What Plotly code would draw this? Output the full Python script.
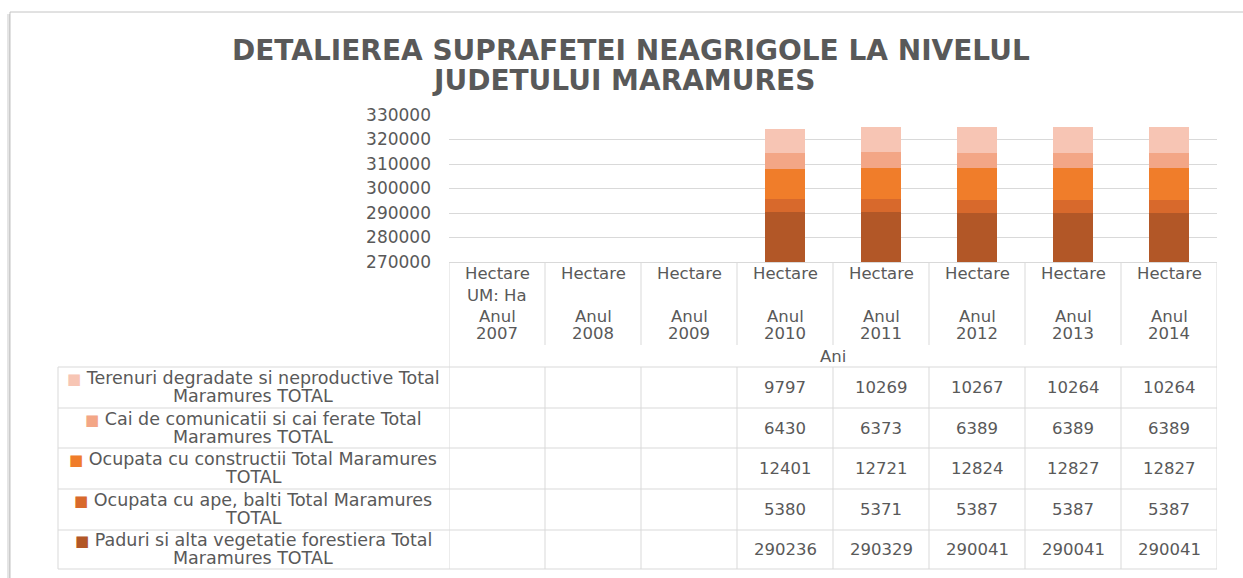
import plotly.graph_objects as go

# ---------------- data ----------------
years = ["2007", "2008", "2009", "2010", "2011", "2012", "2013", "2014"]
unit_row = ["Hectare"] * 8
um_row = ["UM: Ha", "", "", "", "", "", "", ""]
anul_row = ["Anul"] * 8

paduri = [None, None, None, 290236, 290329, 290041, 290041, 290041]
ape = [None, None, None, 5380, 5371, 5387, 5387, 5387]
constructii = [None, None, None, 12401, 12721, 12824, 12827, 12827]
cai = [None, None, None, 6430, 6373, 6389, 6389, 6389]
terenuri = [None, None, None, 9797, 10269, 10267, 10264, 10264]

# bottom-to-top stacking order: (label line 1, label line 2, values, colour)
series = [
    ("Paduri si alta vegetatie forestiera Total", "Maramures TOTAL", paduri, "#b25727"),
    ("Ocupata cu ape, balti Total Maramures", "TOTAL", ape, "#d8692c"),
    ("Ocupata cu constructii Total Maramures", "TOTAL", constructii, "#f07d2a"),
    ("Cai de comunicatii si cai ferate Total", "Maramures TOTAL", cai, "#f3a686"),
    ("Terenuri degradate si neproductive Total", "Maramures TOTAL", terenuri, "#f7c5b4"),
]

title_lines = ["DETALIEREA SUPRAFETEI NEAGRIGOLE LA NIVELUL", "JUDETULUI MARAMURES"]
axis_title = "Ani"

# ---------------- geometry helpers ----------------
W, H = 1243, 578
L, R, T, B = 449, 1217, 115, 262
FONT = "DejaVu Sans"
TXT = "#595959"
GRID = "#d9d9d9"


def px(x):
    return (x - L) / (R - L)


def py(y):
    return (B - y) / (B - T)


fig = go.Figure()
for l1, l2, vals, col in series:
    fig.add_trace(go.Bar(
        x=years, y=vals, name=l1 + " " + l2,
        marker=dict(color=col, line=dict(width=0)),
        width=0.42, showlegend=False,
        hovertemplate="%{x}: %{y}<extra></extra>",
    ))

shapes = []
# frame
shapes.append(dict(type="rect", xref="paper", yref="paper",
                   x0=px(10), x1=px(1290), y0=py(12), y1=py(620),
                   line=dict(color="#c4c4c4", width=1), layer="below"))
shapes.append(dict(type="line", xref="paper", yref="paper",
                   x0=px(8.5), x1=px(8.5), y0=py(14), y1=py(620),
                   line=dict(color="rgba(0,0,0,0.10)", width=3), layer="below"))


def hline(y, x0, x1):
    shapes.append(dict(type="line", xref="paper", yref="paper",
                       x0=px(x0), x1=px(x1), y0=py(y), y1=py(y),
                       line=dict(color=GRID, width=1)))


for y in [367, 408, 448, 489, 530, 569]:
    hline(y, 58, R)

n = len(years)
for i in range(n + 1):
    xb = i - 0.5
    if i in (0, n):
        segs = [(262, 569)]
    else:
        segs = [(262, 345), (367, 569)]
    for y0, y1 in segs:
        shapes.append(dict(type="line", xref="x", yref="paper",
                           x0=xb, x1=xb, y0=py(y0), y1=py(y1),
                           line=dict(color=GRID, width=1)))
shapes.append(dict(type="line", xref="paper", yref="paper",
                   x0=px(58), x1=px(58), y0=py(367), y1=py(569),
                   line=dict(color=GRID, width=1)))

ann = []
# title
for line, yc, xc in [(title_lines[0], 50, 631), (title_lines[1], 80, 623)]:
    ann.append(dict(text="<b>" + line + "</b>", xref="paper", yref="paper",
                    x=px(xc), y=py(yc), showarrow=False, xanchor="center", yanchor="middle",
                    font=dict(family=FONT, size=28, color=TXT)))

fs = 16.5
fl = 17.5
# category headers (category index positions)
for i, yr in enumerate(years):
    for txt, yc in [(unit_row[i], 273), (um_row[i], 295), (anul_row[i], 316), (yr, 333)]:
        if txt:
            ann.append(dict(text=txt, xref="x", yref="paper", x=i, y=py(yc),
                            showarrow=False, xanchor="center", yanchor="middle",
                            font=dict(family=FONT, size=fs, color=TXT)))
# axis title
ann.append(dict(text=axis_title, xref="paper", yref="paper", x=0.5, y=py(356),
                showarrow=False, xanchor="center", yanchor="middle",
                font=dict(family=FONT, size=fs, color=TXT)))

# data table rows (top to bottom)
row_centers = [387, 428, 468, 509, 549]
for (l1, l2, vals, col), yc in zip(series[::-1], row_centers):
    ann.append(dict(text="<span style='color:%s;font-size:15px'>■</span> %s" % (col, l1),
                    xref="paper", yref="paper", x=px(253), y=py(yc - 9),
                    showarrow=False, xanchor="center", yanchor="middle",
                    font=dict(family=FONT, size=fl, color=TXT)))
    ann.append(dict(text=l2, xref="paper", yref="paper", x=px(253), y=py(yc + 9),
                    showarrow=False, xanchor="center", yanchor="middle",
                    font=dict(family=FONT, size=fl, color=TXT)))
    for i, v in enumerate(vals):
        if v is not None:
            ann.append(dict(text=str(v), xref="x", yref="paper", x=i, y=py(yc),
                            showarrow=False, xanchor="center", yanchor="middle",
                            font=dict(family=FONT, size=fs, color=TXT)))

fig.update_layout(
    width=W, height=H, autosize=False,
    margin=dict(l=L, r=W - R, t=T, b=H - B),
    barmode="stack",
    plot_bgcolor="white", paper_bgcolor="white",
    font=dict(family=FONT, size=fs, color=TXT),
    shapes=shapes, annotations=ann,
    xaxis=dict(type="category", categoryorder="array", categoryarray=years,
               range=[-0.5, n - 0.5], showticklabels=False, ticks="",
               showgrid=False, showline=True, linecolor=GRID, linewidth=1,
               zeroline=False, fixedrange=True),
    yaxis=dict(range=[270000, 330000], dtick=10000, tickformat="d",
               showgrid=True, gridcolor=GRID, gridwidth=1, zeroline=False,
               showline=False, ticks="", ticklabelstandoff=17,
               tickfont=dict(family=FONT, size=17, color=TXT), fixedrange=True),
)

fig.write_html("out.html", config={"displayModeBar": False},
               post_script="document.body.style.margin='0';")
